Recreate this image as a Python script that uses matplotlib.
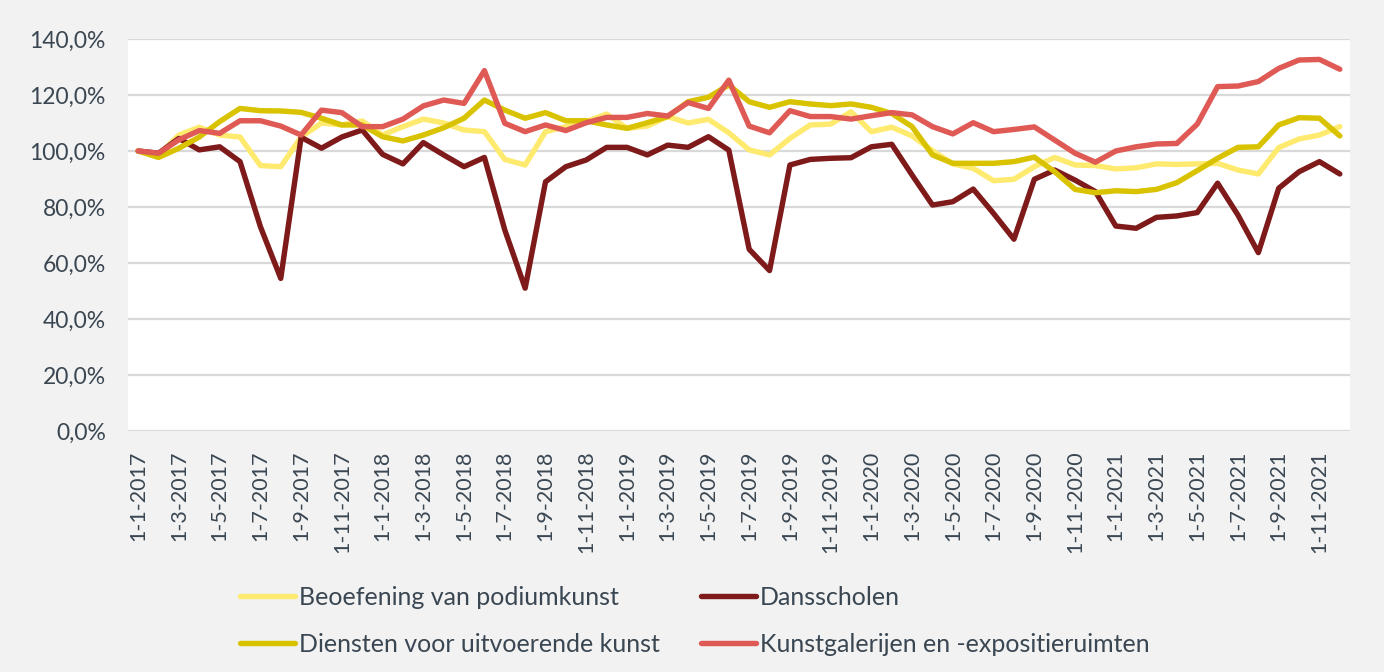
import matplotlib
matplotlib.use("Agg")
from matplotlib import pyplot as plt
from matplotlib.ticker import FuncFormatter, FixedLocator

plt.rcParams['font.family'] = ['Lato', 'DejaVu Sans']

# maandelijkse index, 1-1-2017 = 100%
months = [f"1-{m}-{y}" for y in range(2017, 2022) for m in range(1, 13)]

beoefening = [100, 98.6, 105.7, 108.5, 105.7, 105, 94.8, 94.4, 105, 110, 109.3, 110.7,
              105.7, 108.7, 111.4, 110, 107.5, 106.9, 97, 95, 106.9, 108.7, 110.5, 113.2,
              108.1, 108.9, 112.3, 110, 111.3, 106.5, 100.4, 98.6, 104.5, 109.3, 109.6, 114,
              106.9, 108.5, 105.4, 100.1, 95.4, 93.8, 89.4, 89.9, 94.4, 97.7, 95, 94.8,
              93.6, 94, 95.4, 95.2, 95.4, 95.6, 93.2, 91.8, 101.2, 104.3, 105.7, 108.7]

dansscholen = [100, 99.2, 104.5, 100.4, 101.5, 96.2, 73, 54.5, 104.9, 101, 105, 107.5,
               98.8, 95.4, 103, 98.6, 94.4, 97.7, 71.8, 51, 89, 94.4, 96.8, 101.3,
               101.3, 98.6, 102.1, 101.3, 105.1, 100.3, 64.9, 57.3, 95, 97, 97.4, 97.6,
               101.5, 102.4, 91.4, 80.7, 81.9, 86.4, 77.7, 68.5, 89.9, 93.2, 89.6, 85.5,
               73.2, 72.4, 76.3, 76.8, 78, 88.5, 77.1, 63.7, 86.7, 92.6, 96.2, 91.8]

diensten = [100, 97.7, 101, 105, 110.5, 115.2, 114.4, 114.3, 113.8, 111.7, 109.3, 109.3,
            105.1, 103.6, 105.7, 108.3, 111.7, 118.2, 114.6, 111.7, 113.7, 110.8, 110.8, 109.3,
            108.1, 110.1, 112.3, 117.6, 119.2, 123.6, 117.6, 115.6, 117.6, 116.8, 116.2, 116.8,
            115.6, 113.4, 108.7, 98.6, 95.6, 95.6, 95.6, 96.2, 97.8, 92.6, 86.3, 85.1,
            85.8, 85.5, 86.3, 88.7, 93, 97.4, 101.3, 101.5, 109.3, 111.9, 111.7, 105.4]

kunstgalerijen = [100, 99.2, 104, 107.3, 106.3, 110.8, 110.8, 108.9, 105.7, 114.6, 113.7, 108.7,
                  108.7, 111.4, 116.1, 118.2, 117, 128.7, 109.9, 106.9, 109.3, 107.3, 110.1, 112,
                  112, 113.4, 112.5, 117.3, 115.2, 125.3, 108.9, 106.5, 114.4, 112.3, 112.3, 111.4,
                  112.6, 113.7, 112.9, 108.7, 106.1, 110.1, 106.9, 107.7, 108.6, 103.9, 99.2, 96,
                  100, 101.5, 102.5, 102.7, 109.6, 123, 123.2, 124.8, 129.5, 132.5, 132.7, 129.2]

text_color = '#3a4752'
grid_color = '#d9d9d9'

fig = plt.figure(figsize=(13.84, 6.72), dpi=100, facecolor='#f2f2f2')
ax = fig.add_axes([128 / 1384, 1 - 431 / 672, (1350 - 128) / 1384, (431 - 39) / 672])
ax.set_facecolor('white')

x = list(range(len(months)))
l1, = ax.plot(x, beoefening, color='#ffea70', lw=3.9, label='Beoefening van podiumkunst', solid_capstyle='round')
l2, = ax.plot(x, dansscholen, color='#7f1a1a', lw=3.9, label='Dansscholen', solid_capstyle='round')
l3, = ax.plot(x, diensten, color='#d9c200', lw=3.9, label='Diensten voor uitvoerende kunst', solid_capstyle='round')
l4, = ax.plot(x, kunstgalerijen, color='#e05a55', lw=3.9, label='Kunstgalerijen en -expositieruimten', solid_capstyle='round')

ax.set_xlim(-0.5, len(months) - 0.5)
ax.set_ylim(0, 140)
ax.set_yticks(range(0, 141, 20))
ax.yaxis.set_major_formatter(FuncFormatter(lambda v, p: f"{v:.1f}%".replace('.', ',')))
ax.xaxis.set_major_locator(FixedLocator(x[::2]))
ax.set_xticklabels(months[::2], rotation=90)

ax.grid(axis='y', color=grid_color, lw=1.6)
ax.set_axisbelow(True)
for s in ax.spines.values():
    s.set_visible(False)
ax.tick_params(axis='both', length=0, colors=text_color)
ax.tick_params(axis='y', pad=16, labelsize=16.5)
ax.tick_params(axis='x', pad=14, labelsize=15.5)

fig.legend([l1, l3, l2, l4], [l1.get_label(), l3.get_label(), l2.get_label(), l4.get_label()],
           ncol=2, loc='upper left', bbox_to_anchor=(240 / 1384, 1 - 586 / 672),
           frameon=False, fontsize=18, handlelength=2.2, handletextpad=0.15,
           columnspacing=1.65, labelspacing=0.95, borderpad=0, borderaxespad=0,
           labelcolor=text_color)

fig.savefig('out.png', dpi=100, facecolor=fig.get_facecolor())
